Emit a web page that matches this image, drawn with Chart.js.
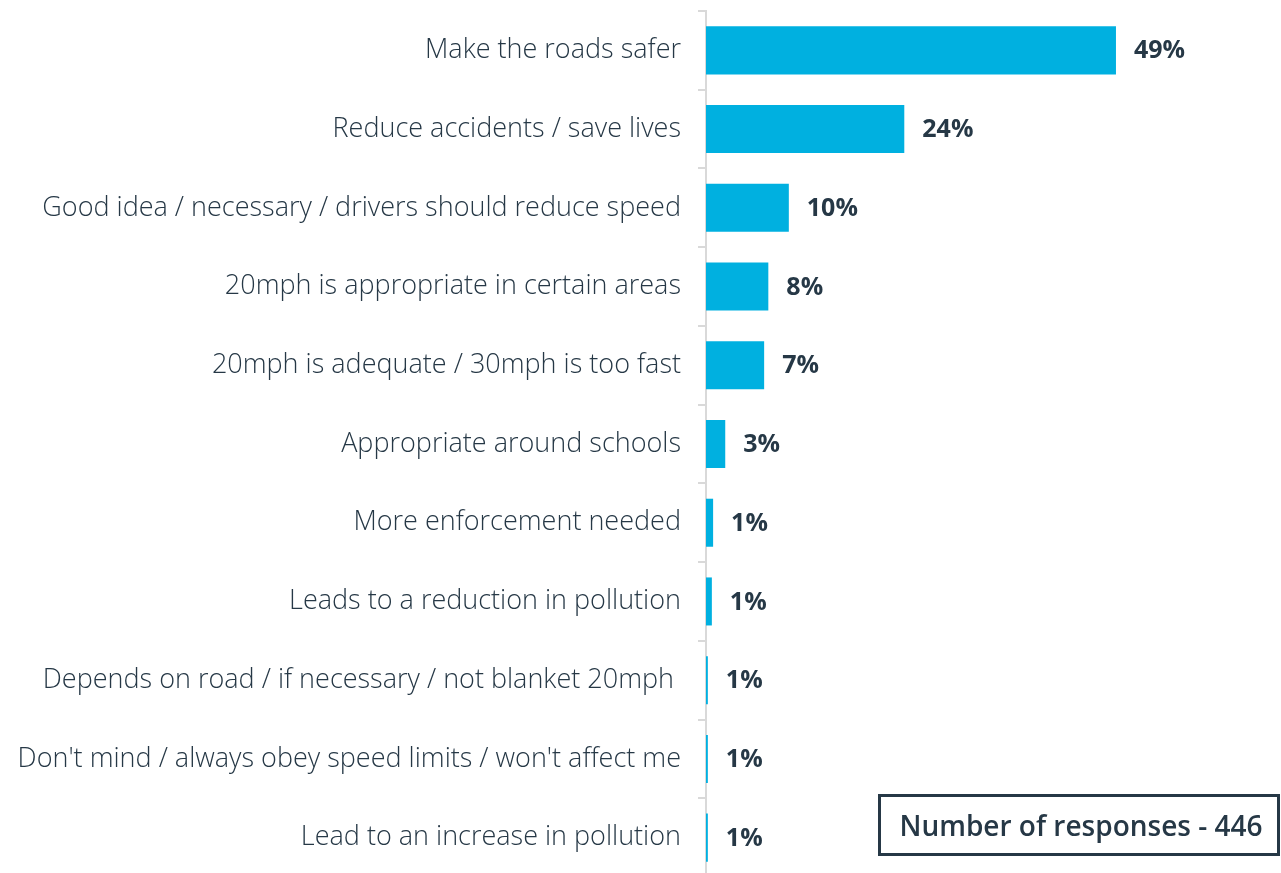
<!DOCTYPE html>
<html>
<head>
<meta charset="utf-8">
<script src="https://cdn.jsdelivr.net/npm/chart.js@4.4.1/dist/chart.umd.min.js"></script>
<style>
  html, body { margin: 0; padding: 0; background: #ffffff; overflow: hidden; }
  #wrap { position: relative; width: 1281px; height: 877px; }
  #note {
    position: absolute; left: 878px; top: 794px; width: 396px; height: 56px;
    border: 3px solid #263846; box-sizing: content-box;
    font-family: "Open Sans", sans-serif; font-weight: 600; font-size: 28px; color: #263846;
    display: flex; align-items: center; justify-content: center; padding-left: 4px; width: 392px;
  }
</style>
</head>
<body>
<div id="wrap">
  <canvas id="c" width="1281" height="877"></canvas>
  <div id="note">Number of responses - 446</div>
</div>
<script>
const categories = [
  "Make the roads safer",
  "Reduce accidents / save lives",
  "Good idea / necessary / drivers should reduce speed",
  "20mph is appropriate in certain areas",
  "20mph is adequate / 30mph is too fast",
  "Appropriate around schools",
  "More enforcement needed",
  "Leads to a reduction in pollution",
  "Depends on road / if necessary / not blanket 20mph ",
  "Don't mind / always obey speed limits / won't affect me",
  "Lead to an increase in pollution"
];
const values = [49, 23.7, 9.9, 7.45, 6.95, 2.3, 0.85, 0.7, 0.22, 0.22, 0.22];
const valueLabels = ["49%", "24%", "10%", "8%", "7%", "3%", "1%", "1%", "1%", "1%", "1%"];

const TEXT = '#263846';

const valueLabelPlugin = {
  id: 'valueLabels',
  afterDatasetsDraw(chart) {
    const ctx = chart.ctx;
    const meta = chart.getDatasetMeta(0);
    ctx.save();
    ctx.font = '700 25px "Open Sans", sans-serif';
    ctx.fillStyle = TEXT;
    ctx.textAlign = 'left';
    ctx.textBaseline = 'middle';
    meta.data.forEach((bar, i) => {
      ctx.fillText(valueLabels[i], bar.x + 18, bar.y + 1);
    });
    ctx.restore();
  }
};

new Chart(document.getElementById('c'), {
  type: 'bar',
  data: {
    labels: categories,
    datasets: [{
      data: values,
      backgroundColor: '#00B0E0',
      borderWidth: 0,
      barPercentage: 0.61,
      categoryPercentage: 1.0
    }]
  },
  options: {
    indexAxis: 'y',
    responsive: false,
    animation: false,
    devicePixelRatio: 1,
    layout: { padding: { top: 11, bottom: 0, left: 0, right: 73 } },
    plugins: { legend: { display: false }, tooltip: { enabled: false } },
    scales: {
      x: {
        display: false,
        min: 0,
        max: 60
      },
      y: {
        afterFit(scale) {
          scale.width = 706;
          scale.paddingTop = 0;
          scale.paddingBottom = 0;
        },
        border: { display: true, color: '#d9d9d9', width: 2 },
        grid: {
          display: true,
          drawOnChartArea: false,
          drawTicks: true,
          tickLength: 8,
          color: '#d9d9d9',
          lineWidth: 2,
          offset: true
        },
        ticks: {
          color: TEXT,
          padding: 17,
          autoSkip: false,
          font: { family: '"Open Sans", sans-serif', weight: '300', size: 27 }
        }
      }
    }
  },
  plugins: [valueLabelPlugin]
});
</script>
</body>
</html>
